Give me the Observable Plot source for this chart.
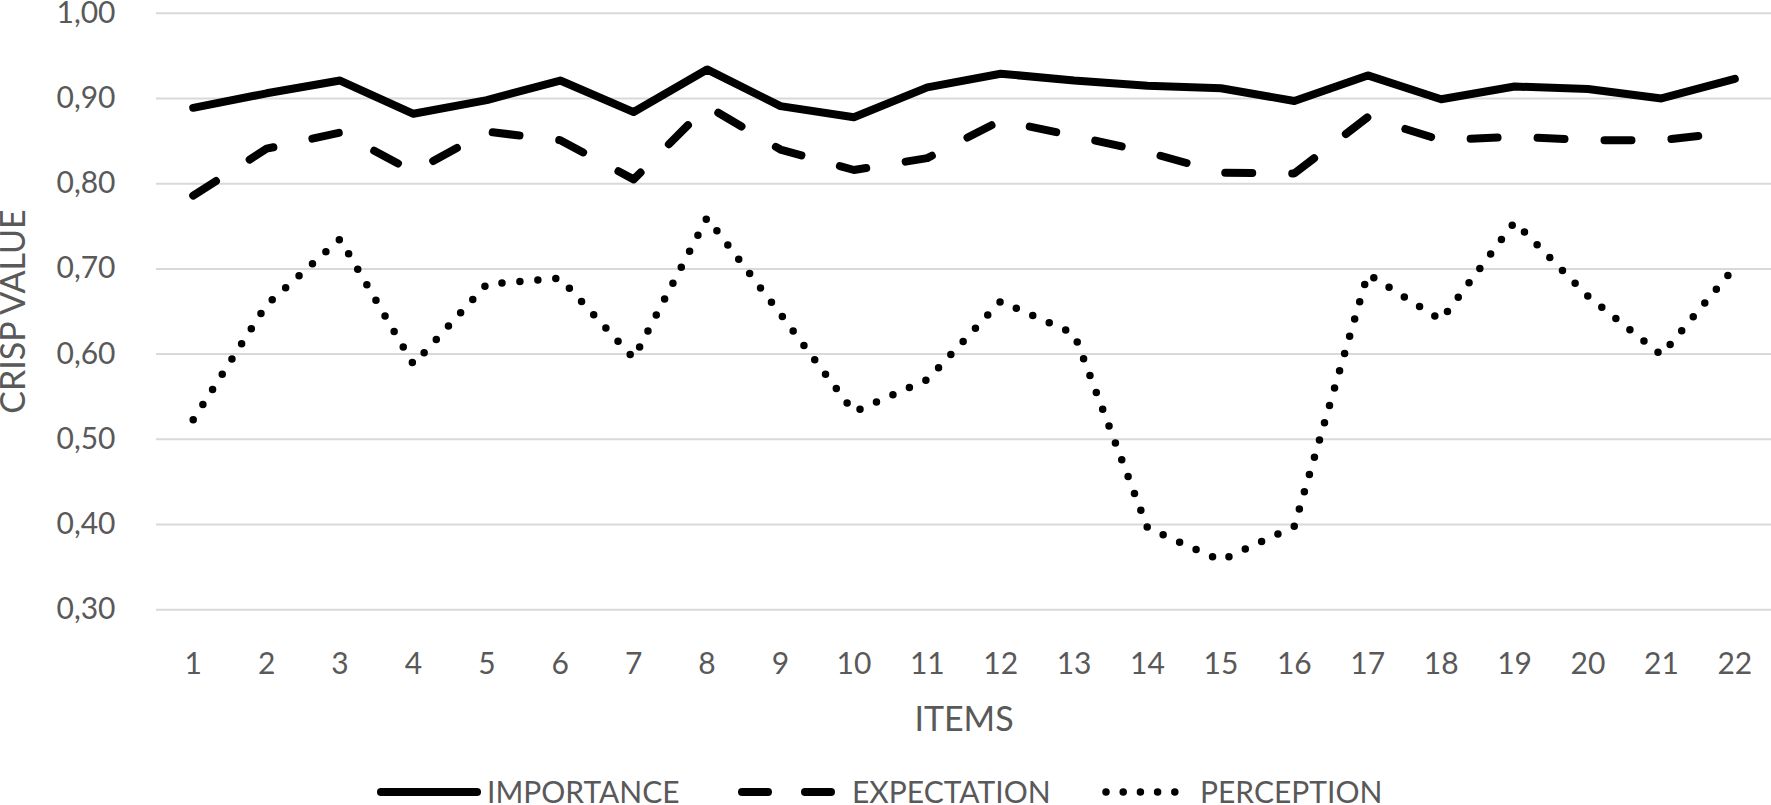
<!DOCTYPE html>
<html>
<head>
<meta charset="utf-8">
<script src="https://cdn.jsdelivr.net/npm/d3@7"></script>
<script src="https://cdn.jsdelivr.net/npm/@observablehq/plot@0.6"></script>
<style>
  html, body { margin: 0; padding: 0; background: white; overflow: hidden; }
  #wrap { position: relative; width: 1771px; height: 805px; }
  #chart svg { display: block; }
  .leg { position: absolute; top: 777px; height: 28px; line-height: 28px;
         font-family: Lato, sans-serif; font-size: 30px; color: #595959; white-space: nowrap; }
  .legsvg { position: absolute; top: 773px; }
</style>
</head>
<body>
<div id="wrap">
  <div id="chart"></div>
</div>
<script>
const items = [1,2,3,4,5,6,7,8,9,10,11,12,13,14,15,16,17,18,19,20,21,22];
const importance = [0.889,0.906,0.921,0.882,0.898,0.921,0.884,0.934,0.891,0.878,0.913,0.929,0.921,0.915,0.912,0.897,0.927,0.899,0.914,0.911,0.900,0.923];
const expectation = [0.786,0.841,0.860,0.814,0.861,0.851,0.805,0.891,0.840,0.816,0.830,0.874,0.856,0.837,0.813,0.812,0.878,0.851,0.855,0.851,0.851,0.861];
const perception = [0.523,0.658,0.735,0.588,0.682,0.689,0.595,0.760,0.647,0.532,0.570,0.662,0.624,0.396,0.358,0.398,0.694,0.640,0.755,0.668,0.599,0.702];
const seriesNames = ["IMPORTANCE", "EXPECTATION", "PERCEPTION"];
const yTicks = [0.30,0.40,0.50,0.60,0.70,0.80,0.90,1.00];
const xTitle = "ITEMS";
const yTitle = "CRISP VALUE";

const rowsOf = (vals) => items.map((it, i) => ({item: it, value: vals[i]}));
const fmt = d => d.toFixed(2).replace(".", ",");

const chart = Plot.plot({
  width: 1771,
  height: 770,
  marginLeft: 156,
  marginRight: 0,
  marginTop: 12.7,
  marginBottom: 160.7,
  x: {type: "linear", domain: [0.5, 22.5]},
  y: {domain: [0.30, 1.00]},
  style: {fontFamily: "Lato, sans-serif", fontSize: "30px", color: "#595959", background: "white"},
  marks: [
    Plot.gridY(yTicks, {stroke: "#d9d9d9", strokeOpacity: 1, strokeWidth: 2}),
    Plot.axisY(yTicks, {tickSize: 0, tickPadding: 41, tickFormat: fmt, label: null}),
    Plot.axisX(items, {tickSize: 0, tickPadding: 43, tickFormat: d => String(d), label: null}),
    Plot.line(rowsOf(importance), {x: "item", y: "value", stroke: "black", strokeWidth: 8,
      strokeLinecap: "round", strokeLinejoin: "round"}),
    Plot.line(rowsOf(expectation), {x: "item", y: "value", stroke: "black", strokeWidth: 8,
      strokeDasharray: "27 40", strokeLinecap: "round", strokeLinejoin: "round"}),
    Plot.line(rowsOf(perception), {x: "item", y: "value", stroke: "black", strokeWidth: 7.5,
      strokeDasharray: "0 18", strokeLinecap: "round", strokeLinejoin: "round"}),
    Plot.text([xTitle], {frameAnchor: "bottom", dy: 110.7, lineAnchor: "middle", textAnchor: "middle",
      text: d => d, fontSize: 34, fill: "#595959"}),
    Plot.text([yTitle], {frameAnchor: "left", dx: -142, rotate: -90, lineAnchor: "middle", textAnchor: "middle",
      text: d => d, fontSize: 34, fill: "#595959"})
  ]
});
document.getElementById("chart").appendChild(chart);

// Legend below the chart
const wrap = document.getElementById("wrap");
const legendSpecs = [
  {name: seriesNames[0], svgLeft: 370, x1: 11, x2: 107, dash: null, w: 8, textLeft: 487},
  {name: seriesNames[1], svgLeft: 730, x1: 12, x2: 101, dash: "26 37", w: 8, textLeft: 852},
  {name: seriesNames[2], svgLeft: 1095, x1: 11, x2: 97, dash: "0 17.2", w: 7.5, textLeft: 1200}
];
for (const s of legendSpecs) {
  const svg = d3.create("svg").attr("class", "legsvg").attr("width", 115).attr("height", 32)
    .style("left", s.svgLeft + "px");
  svg.append("line").attr("x1", s.x1).attr("x2", s.x2).attr("y1", 19).attr("y2", 19)
    .attr("stroke", "black").attr("stroke-width", s.w).attr("stroke-linecap", "round")
    .attr("stroke-dasharray", s.dash);
  wrap.appendChild(svg.node());
  const t = document.createElement("div");
  t.className = "leg";
  t.style.left = s.textLeft + "px";
  t.textContent = s.name;
  wrap.appendChild(t);
}
</script>
</body>
</html>
